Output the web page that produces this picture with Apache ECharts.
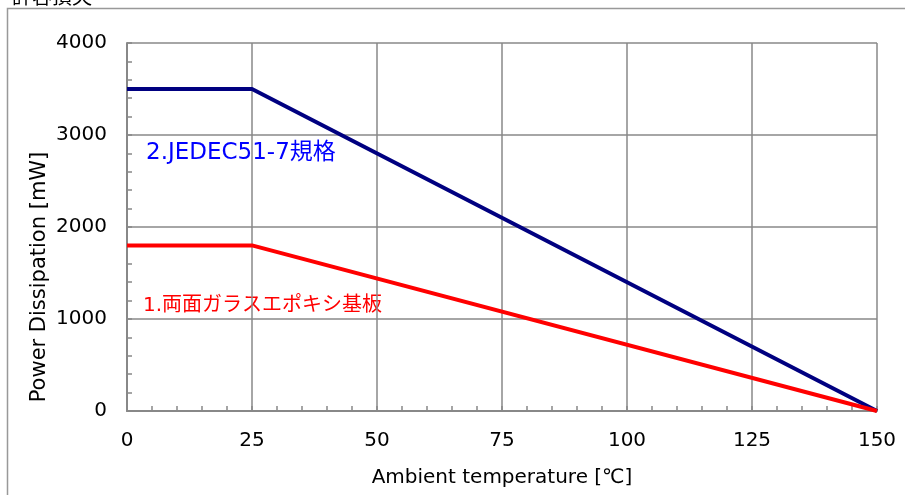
<!DOCTYPE html>
<html><head><meta charset="utf-8">
<script src="https://cdn.jsdelivr.net/npm/echarts@6/dist/echarts.min.js"></script>
<style>html,body{margin:0;padding:0;background:#fff}#c{width:905px;height:495px}</style>
</head><body><div id="c"></div>
<script>
const temps = [0, 25, 150];
const jedecValues = [3500, 3500, 0];
const glassValues = [1800, 1800, 0];
const xTicks = [0, 25, 50, 75, 100, 125, 150];
const yTicks = [0, 1000, 2000, 3000, 4000];
const seriesNames = ['2.JEDEC51-7規格', '1.両面ガラスエポキシ基板'];
const yAxisTitle = 'Power Dissipation [mW]';
const xAxisTitle = 'Ambient temperature [℃]';

const chart = echarts.init(document.getElementById('c'));
const latin = 'DejaVu Sans, "Noto Sans CJK JP", sans-serif';
chart.setOption({
  animation: false,
  grid: {left: 127, right: 28, top: 43, bottom: 84},
  graphic: [
    {type: 'rect', shape: {x: 7.5, y: 8.5, width: 1000, height: 600},
     style: {fill: 'none', stroke: '#999', lineWidth: 1.5}, silent: true},
    {type: 'text', left: 12, top: -14, style: {text: '許容損失', fontSize: 20, fill: '#000', fontFamily: '"Noto Sans CJK JP", sans-serif'}},
    {type: 'text', left: 146, top: 142, style: {text: seriesNames[0], fontSize: 23, fill: '#0000ff', fontFamily: latin}},
    {type: 'text', left: 143, top: 296, style: {text: seriesNames[1], fontSize: 20, fill: '#ff0000', fontFamily: latin}},
    {type: 'text', x: 40, y: 277, rotation: Math.PI / 2,
     style: {text: yAxisTitle, fontSize: 21, fill: '#000', fontFamily: latin, align: 'center', verticalAlign: 'middle'}}
  ],
  xAxis: {
    type: 'value', min: xTicks[0], max: xTicks[xTicks.length - 1], interval: 25,
    name: xAxisTitle, nameLocation: 'middle', nameGap: 57,
    nameTextStyle: {fontSize: 20, color: '#000', fontFamily: latin},
    axisLine: {lineStyle: {color: '#888', width: 2}},
    axisTick: {show: true, inside: true, length: 5, lineStyle: {color: '#888', width: 1.5}},
    minorTick: {show: true, splitNumber: 5, length: 5, lineStyle: {color: '#888', width: 1.5}},
    axisLabel: {fontSize: 20, color: '#000', margin: 20, fontFamily: latin},
    splitLine: {show: true, lineStyle: {color: '#888', width: 1.5}}
  },
  yAxis: {
    type: 'value', min: yTicks[0], max: yTicks[yTicks.length - 1], interval: 1000,
    axisLine: {show: true, lineStyle: {color: '#888', width: 2}},
    axisTick: {show: true, inside: true, length: 5, lineStyle: {color: '#888', width: 1.5}},
    minorTick: {show: true, splitNumber: 5, length: 5, lineStyle: {color: '#888', width: 1.5}},
    axisLabel: {fontSize: 20, color: '#000', margin: 20, fontFamily: latin, formatter: v => String(v)},
    splitLine: {show: true, lineStyle: {color: '#888', width: 1.5}}
  },
  series: [
    {name: seriesNames[0], type: 'line', data: temps.map((t, i) => [t, jedecValues[i]]),
     showSymbol: false, lineStyle: {color: '#000080', width: 4}},
    {name: seriesNames[1], type: 'line', data: temps.map((t, i) => [t, glassValues[i]]),
     showSymbol: false, lineStyle: {color: '#ff0000', width: 4}}
  ]
});
</script></body></html>
